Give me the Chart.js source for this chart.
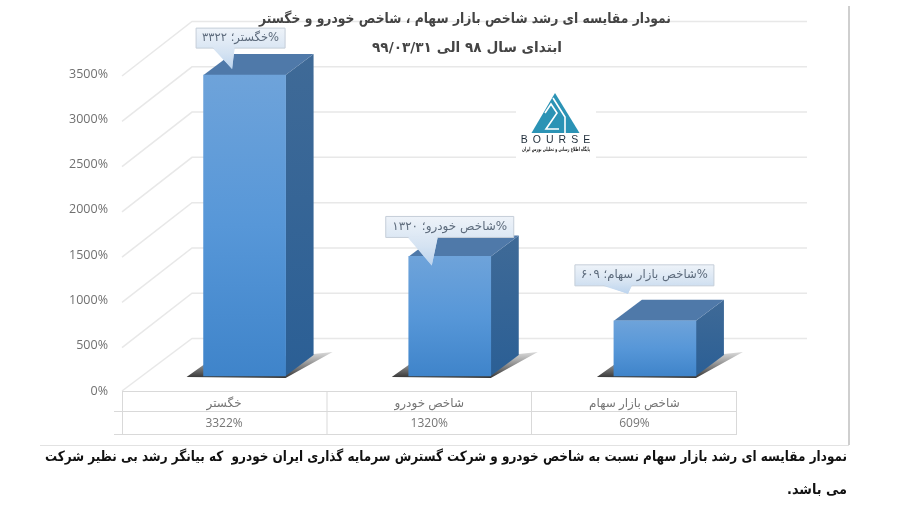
<!DOCTYPE html>
<html lang="fa">
<head>
<meta charset="utf-8">
<style>
html,body{margin:0;padding:0;background:#fff}
canvas{display:block;filter:blur(0.35px)}
</style>
<script src="https://cdn.jsdelivr.net/npm/chart.js@4"></script>
</head>
<body>
<canvas id="c" width="900" height="506"></canvas>
<script>
const categories = ["خگستر", "شاخص خودرو", "شاخص بازار سهام"];
const growthValues = [3322, 1320, 609];
const titleLines = ["نمودار مقایسه ای رشد شاخص بازار سهام ، شاخص خودرو و خگستر", "ابتدای سال ۹۸ الی ۹۹/۰۳/۳۱"];
const captionLines = ["نمودار مقایسه ای رشد بازار سهام نسبت به شاخص خودرو و شرکت گسترش سرمایه گذاری ایران خودرو  که بیانگر رشد بی نظیر شرکت", "می باشد."];
const logoWord = "BOURSE";
const logoTagline = "پایگاه اطلاع رسانی و تحلیلی بورس ایران";

const UI = '"Open Sans","DejaVu Sans",sans-serif';
const FA = '"DejaVu Sans",sans-serif';
const toFa = n => String(n).replace(/\d/g, d => "۰۱۲۳۴۵۶۷۸۹"[d]);
const calloutLayout = [
  {l:-48.5,r:40.5,t:-47,b:-27,b0:-32,b1:-10,tx:-12.5,ty:-6},
  {l:-64,r:64,t:-40,b:-19,b0:-42,b1:-12,tx:-18,ty:9},
  {l:-80,r:59,t:-56,b:-35,b0:-52,b1:-23,tx:-27,ty:-27}
];

function gridPlugin(chart){
  const c = chart.ctx, y = chart.scales.y;
  c.save();
  c.fillStyle = "#fff"; c.fillRect(0,0,900,506);
  // outer frame
  c.strokeStyle = "#cfcfcf"; c.lineWidth = 2;
  c.beginPath(); c.moveTo(849,6); c.lineTo(849,445); c.stroke();
  c.strokeStyle = "#e2e2e2"; c.lineWidth = 1;
  c.beginPath(); c.moveTo(40,445.5); c.lineTo(849,445.5); c.stroke();
  // back wall and side wall
  y.ticks.forEach(t => {
    const p = y.getPixelForValue(t.value);
    c.strokeStyle = "#e8e8e8"; c.lineWidth = 1.5;
    c.beginPath(); c.moveTo(122,p+(t.value===0?0:2)); c.lineTo(192,p-52.5); c.lineTo(807,p-52.5); c.stroke();
  });
  // data table
  c.strokeStyle = "#d9d9d9"; c.lineWidth = 1;
  const cols = [122,326.5,531,736];
  c.beginPath();
  c.moveTo(122,391.5); c.lineTo(736,391.5);
  c.moveTo(114,411.5); c.lineTo(736,411.5);
  c.moveTo(114,434.5); c.lineTo(736,434.5);
  cols.forEach(x => { c.moveTo(x+.5,391); c.lineTo(x+.5,435); });
  c.stroke();
  c.restore();
}

function drawLogo(c){
  c.save();
  c.fillStyle = "#fff"; c.fillRect(516,90,80,70);
  c.fillStyle = "#2b93b5";
  c.beginPath(); c.moveTo(555,93); c.lineTo(579.5,133); c.lineTo(531.5,133); c.closePath(); c.fill();
  c.strokeStyle = "#fff"; c.lineWidth = 1.6; c.lineJoin = "miter";
  c.beginPath(); c.moveTo(545,113); c.lineTo(551,104); c.lineTo(557,113); c.lineTo(546,129); c.lineTo(559,129); c.stroke();
  c.beginPath(); c.moveTo(553,98); c.lineTo(565,117); c.lineTo(565,133); c.stroke();
  c.fillStyle = "#1f2d3a"; c.textAlign = "center"; c.textBaseline = "middle";
  c.font = "10.5px \"Liberation Sans\"";
  if ("letterSpacing" in c) c.letterSpacing = "5px";
  c.fillText(logoWord, 558, 140);
  if ("letterSpacing" in c) c.letterSpacing = "0px";
  c.font = "bold 5.5px " + FA; c.fillStyle = "#222";
  c.fillText(logoTagline, 556, 150, 68);
  c.restore();
}

const faces3d = {
  id:"faces3d",
  beforeDraw: gridPlugin,
  beforeDatasetsDraw(chart){
    const c = chart.ctx, dx = 28, dy = 21;
    chart.getDatasetMeta(0).data.forEach(b => {
      const L = b.x - b.width/2, R = b.x + b.width/2, T = b.y, B = b.base;
      c.save();
      // floor shadow
      const sg = c.createLinearGradient(0,B-24,0,B+2);
      sg.addColorStop(0,"rgba(70,70,70,.2)"); sg.addColorStop(1,"rgba(40,40,40,.95)");
      c.fillStyle = sg; c.beginPath();
      c.moveTo(L-17,B+1); c.lineTo(L+4,B-14); c.lineTo(R+dx,B-dy-1); c.lineTo(R+47,B-24); c.lineTo(R,B+2); c.closePath(); c.fill();
      // side face
      const g = c.createLinearGradient(0,T-dy,0,B);
      g.addColorStop(0,"#3f6a97"); g.addColorStop(1,"#2b5f95");
      c.fillStyle = g; c.beginPath();
      c.moveTo(R,T); c.lineTo(R+dx,T-dy); c.lineTo(R+dx,B-dy); c.lineTo(R,B); c.closePath(); c.fill();
      // top face
      c.fillStyle = "#4f79a9"; c.beginPath();
      c.moveTo(L,T); c.lineTo(L+dx,T-dy); c.lineTo(R+dx,T-dy); c.lineTo(R,T); c.closePath(); c.fill();
      c.restore();
    });
  },
  afterDatasetsDraw(chart){
    const c = chart.ctx;
    chart.getDatasetMeta(0).data.forEach((b,i) => {
      const q = calloutLayout[i], X = b.x, Y = b.y;
      c.save();
      const g = c.createLinearGradient(0,Y+q.t,0,Y+q.ty);
      g.addColorStop(0,"#eef3f9"); g.addColorStop(.6,"#d5e3f2"); g.addColorStop(1,"#bcd4ee");
      c.fillStyle = g; c.strokeStyle = "#c5ced8"; c.lineWidth = 1;
      c.beginPath();
      c.moveTo(X+q.l,Y+q.t); c.lineTo(X+q.r,Y+q.t); c.lineTo(X+q.r,Y+q.b);
      c.lineTo(X+q.b1,Y+q.b); c.lineTo(X+q.tx,Y+q.ty); c.lineTo(X+q.b0,Y+q.b);
      c.lineTo(X+q.l,Y+q.b); c.closePath(); c.fill();
      c.beginPath(); c.rect(X+q.l,Y+q.t,q.r-q.l,q.b-q.t); c.stroke();
      c.fillStyle = g; c.beginPath();
      c.moveTo(X+q.b1,Y+q.b-1); c.lineTo(X+q.tx,Y+q.ty); c.lineTo(X+q.b0,Y+q.b-1); c.closePath(); c.fill();
      c.fillStyle = "#5d6b7c"; c.font = "12px " + FA;
      c.textAlign = "center"; c.textBaseline = "middle"; c.direction = "rtl";
      c.fillText("%" + categories[i] + "؛ " + toFa(growthValues[i]), X+(q.l+q.r)/2, Y+(q.t+q.b)/2, q.r-q.l-12);
      c.restore();
    });
  },
  afterDraw(chart){
    const c = chart.ctx;
    drawLogo(c);
    c.save();
    c.direction = "rtl"; c.textBaseline = "middle"; c.textAlign = "center";
    c.fillStyle = "#444"; c.font = "bold 14px " + FA;
    c.fillText(titleLines[0], 465, 19, 412);
    c.fillText(titleLines[1], 467, 48, 190);
    c.textAlign = "right"; c.fillStyle = "#111"; c.font = "bold 14px " + FA;
    c.fillText(captionLines[0], 847, 457, 802);
    c.fillText(captionLines[1], 847, 490, 60);
    c.restore();
  }
};

new Chart(document.getElementById("c"), {
  type:"bar",
  data:{
    labels:categories,
    datasets:[{
      data:growthValues,
      yAxisID:"y2",
      barThickness:82,
      borderWidth:0,
      backgroundColor(ctx){
        const s = ctx.chart.scales.y2;
        const fallback = "#5797d8";
        if (ctx.type !== "data" || !s) return fallback;
        const a = s.getPixelForValue(ctx.raw), b = s.getPixelForValue(0);
        if (!Number.isFinite(a) || !Number.isFinite(b)) return fallback;
        const g = ctx.chart.ctx.createLinearGradient(0,a,0,b);
        g.addColorStop(0,"#6ea3da"); g.addColorStop(.5,"#5797d8"); g.addColorStop(1,"#3f84ca");
        return g;
      }
    }]
  },
  plugins:[faces3d],
  options:{
    responsive:false,
    animation:false,
    layout:{padding:{top:74,left:0,right:142.5,bottom:0}},
    plugins:{legend:{display:false},tooltip:{enabled:false},title:{display:false}},
    scales:{
      x:{
        grid:{display:false,drawTicks:false},border:{display:false},
        afterFit(s){s.height=115;},
        ticks:{
          autoSkip:false,maxRotation:0,minRotation:0,padding:2,labelOffset:-20.5,
          color:"#757575",font:{family:UI,size:12,lineHeight:1.72},
          callback(v,i){return [categories[i], growthValues[i] + "%"];}
        }
      },
      y:{
        min:0,max:3500,
        grid:{display:false,drawTicks:false},border:{display:false},
        afterFit(s){s.width=142;},
        ticks:{stepSize:500,padding:34,color:"#707070",font:{family:UI,size:12.5},callback:v=>v+"%"}
      },
      y2:{display:false,min:-165.6,max:3334.4}
    }
  }
});
</script>
</body>
</html>
